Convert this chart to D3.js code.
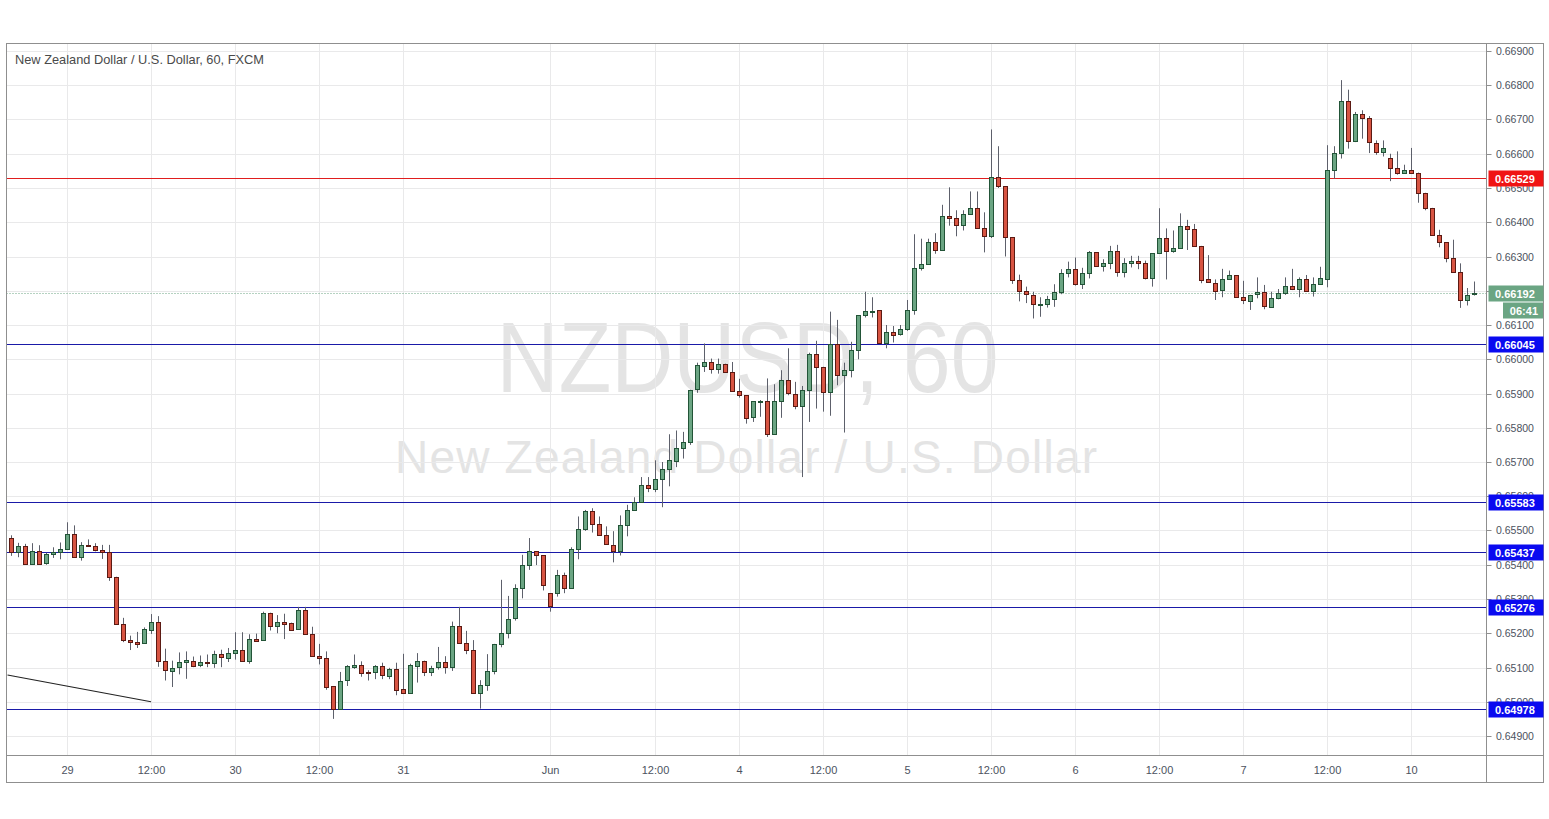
<!DOCTYPE html>
<html><head><meta charset="utf-8">
<script src="https://cdn.jsdelivr.net/npm/d3@7"></script>
<style>
html,body{margin:0;padding:0;background:#fff;}
svg{display:block;}
text{font-family:"Liberation Sans",Arial,sans-serif;}
</style></head><body>
<svg id="chart" width="1549" height="819"></svg>
<script>
// ---------------- DATA ----------------
const opens=[0.65479,0.65438,0.65456,0.65404,0.65441,0.65405,0.65432,0.65438,0.65446,0.65491,
0.65423,0.65459,0.65455,0.65443,0.65438,0.65365,0.65227,0.65180,0.65174,0.65169,
0.65211,0.65233,0.65118,0.65091,0.65100,0.65115,0.65120,0.65105,0.65115,0.65112,
0.65138,0.65129,0.65143,0.65152,0.65119,0.65184,0.65181,0.65260,0.65222,0.65234,
0.65231,0.65212,0.65267,0.65198,0.65135,0.65129,0.65046,0.64979,0.65062,0.65101,
0.65107,0.65087,0.65085,0.65103,0.65077,0.65097,0.65036,0.65025,0.65106,0.65120,
0.65087,0.65100,0.65115,0.65100,0.65221,0.65172,0.65152,0.65027,0.65049,0.65089,
0.65169,0.65200,0.65242,0.65331,0.65399,0.65440,0.65428,0.65317,0.65317,0.65370,
0.65331,0.65445,0.65504,0.65558,0.65519,0.65487,0.65458,0.65440,0.65515,0.65560,
0.65581,0.65632,0.65622,0.65651,0.65680,0.65705,0.65742,0.65759,0.65911,0.65982,
0.65993,0.65973,0.65987,0.65963,0.65907,0.65895,0.65830,0.65877,0.65878,0.65781,
0.65878,0.65939,0.65900,0.65864,0.65910,0.66015,0.65978,0.65905,0.66044,0.65953,
0.65968,0.66027,0.66129,0.66140,0.66143,0.66048,0.66081,0.66073,0.66088,0.66143,
0.66266,0.66278,0.66342,0.66318,0.66418,0.66411,0.66391,0.66424,0.66442,0.66383,
0.66359,0.66532,0.66505,0.66357,0.66230,0.66198,0.66187,0.66159,0.66160,0.66175,
0.66195,0.66251,0.66263,0.66219,0.66251,0.66313,0.66271,0.66280,0.66315,0.66254,
0.66280,0.66287,0.66280,0.66236,0.66309,0.66353,0.66314,0.66324,0.66389,0.66380,
0.66331,0.66233,0.66224,0.66202,0.66233,0.66245,0.66181,0.66171,0.66188,0.66195,
0.66153,0.66178,0.66194,0.66214,0.66205,0.66234,0.66198,0.66219,0.66235,0.66554,
0.66603,0.66754,0.66637,0.66715,0.66703,0.66632,0.66607,0.66589,0.66559,0.66545,
0.66553,0.66545,0.66486,0.66442,0.66363,0.66342,0.66296,0.66254,0.66173,0.66190];
const highs=[0.65486,0.65464,0.65461,0.65463,0.65457,0.65435,0.65451,0.65465,0.65524,0.65515,
0.65466,0.65474,0.65463,0.65458,0.65458,0.65365,0.65245,0.65193,0.65204,0.65217,
0.65256,0.65250,0.65155,0.65120,0.65144,0.65147,0.65132,0.65135,0.65138,0.65149,
0.65152,0.65157,0.65203,0.65203,0.65197,0.65199,0.65263,0.65260,0.65253,0.65257,
0.65231,0.65277,0.65277,0.65219,0.65169,0.65147,0.65046,0.65087,0.65107,0.65138,
0.65118,0.65092,0.65107,0.65114,0.65099,0.65114,0.65140,0.65111,0.65142,0.65120,
0.65105,0.65160,0.65133,0.65234,0.65277,0.65207,0.65180,0.65063,0.65139,0.65169,
0.65356,0.65309,0.65343,0.65429,0.65478,0.65440,0.65428,0.65317,0.65385,0.65377,
0.65451,0.65541,0.65560,0.65565,0.65541,0.65512,0.65498,0.65544,0.65575,0.65597,
0.65656,0.65656,0.65705,0.65700,0.65781,0.65792,0.65788,0.65911,0.65990,0.66046,
0.66002,0.66002,0.65987,0.65992,0.65943,0.65895,0.65878,0.65881,0.65944,0.65927,
0.65968,0.66032,0.65934,0.65922,0.66019,0.66054,0.65978,0.66139,0.66115,0.65990,
0.66051,0.66129,0.66197,0.66181,0.66143,0.66100,0.66097,0.66100,0.66173,0.66365,
0.66352,0.66352,0.66368,0.66451,0.66502,0.66435,0.66435,0.66490,0.66490,0.66429,
0.66671,0.66622,0.66505,0.66357,0.66247,0.66212,0.66197,0.66181,0.66185,0.66219,
0.66263,0.66285,0.66297,0.66267,0.66316,0.66313,0.66292,0.66331,0.66334,0.66295,
0.66302,0.66302,0.66288,0.66309,0.66441,0.66382,0.66376,0.66426,0.66407,0.66395,
0.66331,0.66304,0.66233,0.66264,0.66259,0.66245,0.66229,0.66188,0.66239,0.66217,
0.66197,0.66205,0.66239,0.66264,0.66239,0.66246,0.66239,0.66270,0.66625,0.66622,
0.66815,0.66787,0.66722,0.66727,0.66710,0.66639,0.66639,0.66600,0.66607,0.66568,
0.66617,0.66545,0.66486,0.66442,0.66378,0.66342,0.66349,0.66280,0.66208,0.66227];
const lows=[0.65426,0.65422,0.65403,0.65401,0.65404,0.65400,0.65420,0.65416,0.65443,0.65423,
0.65412,0.65455,0.65439,0.65417,0.65353,0.65227,0.65174,0.65151,0.65157,0.65169,
0.65198,0.65102,0.65062,0.65043,0.65080,0.65067,0.65101,0.65101,0.65101,0.65099,
0.65101,0.65116,0.65123,0.65119,0.65111,0.65176,0.65181,0.65208,0.65200,0.65183,
0.65212,0.65212,0.65198,0.65135,0.65109,0.65035,0.64950,0.64979,0.65046,0.65096,
0.65073,0.65062,0.65066,0.65066,0.65066,0.65019,0.65025,0.65025,0.65056,0.65075,
0.65075,0.65094,0.65082,0.65090,0.65172,0.65139,0.65027,0.64980,0.65032,0.65080,
0.65159,0.65185,0.65237,0.65302,0.65385,0.65399,0.65325,0.65263,0.65307,0.65317,
0.65331,0.65416,0.65499,0.65494,0.65487,0.65458,0.65407,0.65427,0.65483,0.65557,
0.65581,0.65612,0.65612,0.65568,0.65629,0.65685,0.65710,0.65750,0.65902,0.65963,
0.65958,0.65958,0.65963,0.65907,0.65888,0.65812,0.65817,0.65832,0.65773,0.65781,
0.65829,0.65895,0.65854,0.65656,0.65817,0.65856,0.65847,0.65835,0.65924,0.65786,
0.65947,0.66000,0.66122,0.66122,0.66048,0.66032,0.66049,0.66069,0.66083,0.66130,
0.66259,0.66276,0.66308,0.66318,0.66390,0.66359,0.66376,0.66424,0.66383,0.66312,
0.66354,0.66500,0.66300,0.66220,0.66169,0.66164,0.66119,0.66124,0.66151,0.66153,
0.66190,0.66239,0.66215,0.66205,0.66236,0.66271,0.66256,0.66263,0.66241,0.66239,
0.66268,0.66263,0.66233,0.66212,0.66309,0.66233,0.66311,0.66324,0.66319,0.66331,
0.66222,0.66224,0.66173,0.66181,0.66233,0.66181,0.66161,0.66144,0.66178,0.66146,
0.66153,0.66175,0.66188,0.66202,0.66181,0.66198,0.66183,0.66219,0.66210,0.66527,
0.66586,0.66615,0.66634,0.66644,0.66602,0.66597,0.66592,0.66520,0.66539,0.66542,
0.66542,0.66457,0.66435,0.66363,0.66327,0.66283,0.66254,0.66150,0.66157,0.66186];
const closes=[0.65438,0.65456,0.65404,0.65441,0.65404,0.65432,0.65438,0.65446,0.65491,0.65423,
0.65459,0.65455,0.65443,0.65438,0.65365,0.65227,0.65180,0.65174,0.65169,0.65211,
0.65233,0.65118,0.65091,0.65100,0.65115,0.65121,0.65105,0.65115,0.65111,0.65138,
0.65129,0.65143,0.65152,0.65119,0.65184,0.65179,0.65260,0.65222,0.65234,0.65229,
0.65212,0.65267,0.65198,0.65135,0.65129,0.65044,0.64979,0.65062,0.65103,0.65106,
0.65083,0.65084,0.65103,0.65077,0.65097,0.65036,0.65025,0.65106,0.65120,0.65087,
0.65100,0.65115,0.65100,0.65221,0.65172,0.65152,0.65027,0.65049,0.65089,0.65169,
0.65200,0.65242,0.65331,0.65399,0.65440,0.65428,0.65339,0.65279,0.65370,0.65331,
0.65445,0.65504,0.65558,0.65519,0.65487,0.65460,0.65440,0.65515,0.65560,0.65583,
0.65632,0.65622,0.65651,0.65680,0.65705,0.65742,0.65759,0.65911,0.65982,0.65993,
0.65973,0.65987,0.65963,0.65907,0.65895,0.65829,0.65878,0.65879,0.65781,0.65878,
0.65939,0.65900,0.65864,0.65910,0.66015,0.65978,0.65905,0.66044,0.65953,0.65968,
0.66027,0.66129,0.66141,0.66142,0.66048,0.66081,0.66073,0.66088,0.66143,0.66266,
0.66278,0.66342,0.66318,0.66418,0.66411,0.66391,0.66424,0.66442,0.66383,0.66359,
0.66532,0.66505,0.66357,0.66230,0.66198,0.66188,0.66160,0.66160,0.66175,0.66195,
0.66251,0.66263,0.66219,0.66251,0.66313,0.66271,0.66280,0.66315,0.66254,0.66280,
0.66287,0.66280,0.66236,0.66309,0.66353,0.66316,0.66324,0.66389,0.66380,0.66331,
0.66233,0.66224,0.66202,0.66233,0.66245,0.66181,0.66171,0.66188,0.66195,0.66153,
0.66178,0.66194,0.66214,0.66204,0.66234,0.66198,0.66219,0.66236,0.66554,0.66603,
0.66754,0.66637,0.66715,0.66703,0.66632,0.66607,0.66618,0.66559,0.66545,0.66553,
0.66545,0.66486,0.66442,0.66363,0.66344,0.66296,0.66254,0.66173,0.66189,0.66192];

const priceTicks=[0.649,0.650,0.651,0.652,0.653,0.654,0.655,0.656,0.657,0.658,0.659,
0.660,0.661,0.662,0.663,0.664,0.665,0.666,0.667,0.668,0.669];
const timeTickIndex=[8,20,32,44,56,77,92,104,116,128,140,152,164,176,188,200];
const timeTickLabels=["29","12:00","30","12:00","31","Jun","12:00","4","12:00","5","12:00","6","12:00","7","12:00","10"];
const levelValues=[0.66529,0.66045,0.65583,0.65437,0.65276,0.64978];
const lastPrice=0.66192;
const countdown="06:41";
const trendIndex=[-0.5,20];
const trendPrice=[0.65078,0.65000];
const titleText="New Zealand Dollar / U.S. Dollar, 60, FXCM";
const watermarkSymbol="NZDUSD, 60";
const watermarkName="New Zealand Dollar / U.S. Dollar";

// ---------------- LAYOUT / STYLE ----------------
const W=1549,H=819;
const pane={l:6.5,r:1486.5,t:43.5,b:755.5};
const outer={l:6.5,r:1543.5,t:43.5,b:782.5};
const upFill="#6ba583",upStroke="#225437",dnFill="#d75442",dnStroke="#5b1a13",wickCol="#5d606b";
const levelLineCol=["#e01e1e","#1a1aa8","#1a1aa8","#1a1aa8","#1a1aa8","#1a1aa8"];
const levelBoxCol=["#f01414","#0a0af0","#0a0af0","#0a0af0","#0a0af0","#0a0af0"];
const axisText="#4c525e",gridCol="#e9e9ea",borderCol="#8f8f8f";

const svg=d3.select("#chart");
svg.append("rect").attr("width",W).attr("height",H).attr("fill","#fff");

const x=d3.scaleLinear().domain([0,209]).range([11,1474]);
const y=d3.scaleLinear().domain([0.649,0.669]).range([736,51]);
const px=v=>Math.round(x(v));
const py=v=>Math.round(y(v));

svg.append("defs").append("clipPath").attr("id","pclip").append("rect")
 .attr("x",pane.l).attr("y",pane.t).attr("width",pane.r-pane.l).attr("height",pane.b-pane.t);
const plot=svg.append("g").attr("clip-path","url(#pclip)");

// watermark
plot.append("text").attr("x",747.5).attr("y",392).attr("text-anchor","middle")
 .attr("font-size",100).attr("fill","#e4e4e4")
 .attr("textLength",502).attr("lengthAdjust","spacingAndGlyphs")
 .text(watermarkSymbol);
plot.append("text").attr("x",746).attr("y",473).attr("text-anchor","middle")
 .attr("font-size",46).attr("fill","#e4e4e4")
 .attr("textLength",702).attr("lengthAdjust","spacing")
 .text(watermarkName);

// grid
plot.selectAll("line.hg").data(priceTicks).enter().append("line").attr("class","hg")
 .attr("x1",pane.l).attr("x2",pane.r).attr("y1",d=>py(d)+0.5).attr("y2",d=>py(d)+0.5)
 .attr("stroke",gridCol).attr("stroke-width",1);
plot.selectAll("line.vg").data(timeTickIndex).enter().append("line").attr("class","vg")
 .attr("y1",pane.t).attr("y2",pane.b).attr("x1",d=>px(d)+0.5).attr("x2",d=>px(d)+0.5)
 .attr("stroke",gridCol).attr("stroke-width",1);

// levels
plot.selectAll("line.lv").data(levelValues).enter().append("line").attr("class","lv")
 .attr("x1",pane.l).attr("x2",pane.r).attr("y1",d=>py(d)+0.5).attr("y2",d=>py(d)+0.5)
 .attr("stroke",(d,i)=>levelLineCol[i]).attr("stroke-width",1);

// last price dotted
plot.append("line").attr("x1",pane.l).attr("x2",pane.r).attr("y1",py(lastPrice)+0.5).attr("y2",py(lastPrice)+0.5)
 .attr("stroke","#6ba583").attr("stroke-dasharray","1,2").attr("stroke-width",1);

// trend line
plot.append("line").attr("x1",x(trendIndex[0])).attr("y1",y(trendPrice[0]))
 .attr("x2",x(trendIndex[1])).attr("y2",y(trendPrice[1]))
 .attr("stroke","#222").attr("stroke-width",1.2);

// candles
const idx=d3.range(opens.length);
const cg=plot.append("g");
cg.selectAll("line.w").data(idx).enter().append("line").attr("class","w")
 .attr("x1",i=>px(i)+0.5).attr("x2",i=>px(i)+0.5)
 .attr("y1",i=>y(highs[i])).attr("y2",i=>y(lows[i]))
 .attr("stroke",wickCol).attr("stroke-width",1);
cg.selectAll("rect.b").data(idx).enter().append("rect").attr("class","b")
 .attr("x",i=>px(i)-1.5).attr("width",4)
 .attr("y",i=>Math.round(y(Math.max(opens[i],closes[i])))+0.5)
 .attr("height",i=>Math.max(1,Math.round(Math.abs(y(opens[i])-y(closes[i])))))
 .attr("fill",i=>closes[i]>=opens[i]?upFill:dnFill)
 .attr("stroke",i=>closes[i]>=opens[i]?upStroke:dnStroke).attr("stroke-width",1);

// title
svg.append("text").attr("x",15).attr("y",64).attr("font-size",12.8).attr("fill","#4a4a4a").text(titleText);

// borders
svg.append("rect").attr("x",outer.l).attr("y",outer.t).attr("width",outer.r-outer.l).attr("height",outer.b-outer.t)
 .attr("fill","none").attr("stroke",borderCol);
svg.append("line").attr("x1",pane.r).attr("x2",pane.r).attr("y1",outer.t).attr("y2",outer.b).attr("stroke",borderCol);
svg.append("line").attr("x1",outer.l).attr("x2",outer.r).attr("y1",pane.b).attr("y2",pane.b).attr("stroke",borderCol);

// price axis
const pa=svg.append("g");
pa.selectAll("line").data(priceTicks).enter().append("line")
 .attr("x1",pane.r).attr("x2",pane.r+5).attr("y1",d=>py(d)+0.5).attr("y2",d=>py(d)+0.5).attr("stroke",borderCol);
pa.selectAll("text").data(priceTicks).enter().append("text")
 .attr("x",1496).attr("y",d=>py(d)+4).attr("font-size",10.5).attr("fill",axisText)
 .text(d=>d3.format(".5f")(d));

// time axis
const ta=svg.append("g");
ta.selectAll("text").data(timeTickIndex).enter().append("text")
 .attr("x",d=>px(d)+0.5).attr("y",774).attr("text-anchor","middle").attr("font-size",11).attr("fill",axisText)
 .text((d,i)=>timeTickLabels[i]);

// level labels
const lb=svg.append("g");
levelValues.forEach((v,i)=>{
  const cy=py(v)+0.5;
  lb.append("rect").attr("x",pane.r+2).attr("y",cy-8).attr("width",55).attr("height",16).attr("fill",levelBoxCol[i]);
  lb.append("text").attr("x",1495).attr("y",cy+4).attr("font-size",11).attr("font-weight","bold").attr("fill","#fff")
    .text(d3.format(".5f")(v));
});
{
  const cy=py(lastPrice)+0.5;
  lb.append("rect").attr("x",pane.r+2).attr("y",cy-8).attr("width",55).attr("height",16).attr("fill","#6ba583");
  lb.append("text").attr("x",1495).attr("y",cy+4).attr("font-size",11).attr("font-weight","bold").attr("fill","#fff")
    .text(d3.format(".5f")(lastPrice));
  lb.append("rect").attr("x",1503).attr("y",cy+9).attr("width",40).attr("height",16).attr("fill","#6ba583");
  lb.append("text").attr("x",1538).attr("y",cy+21).attr("text-anchor","end").attr("font-size",11).attr("font-weight","bold").attr("fill","#fff")
    .text(countdown);
}
</script></body></html>
